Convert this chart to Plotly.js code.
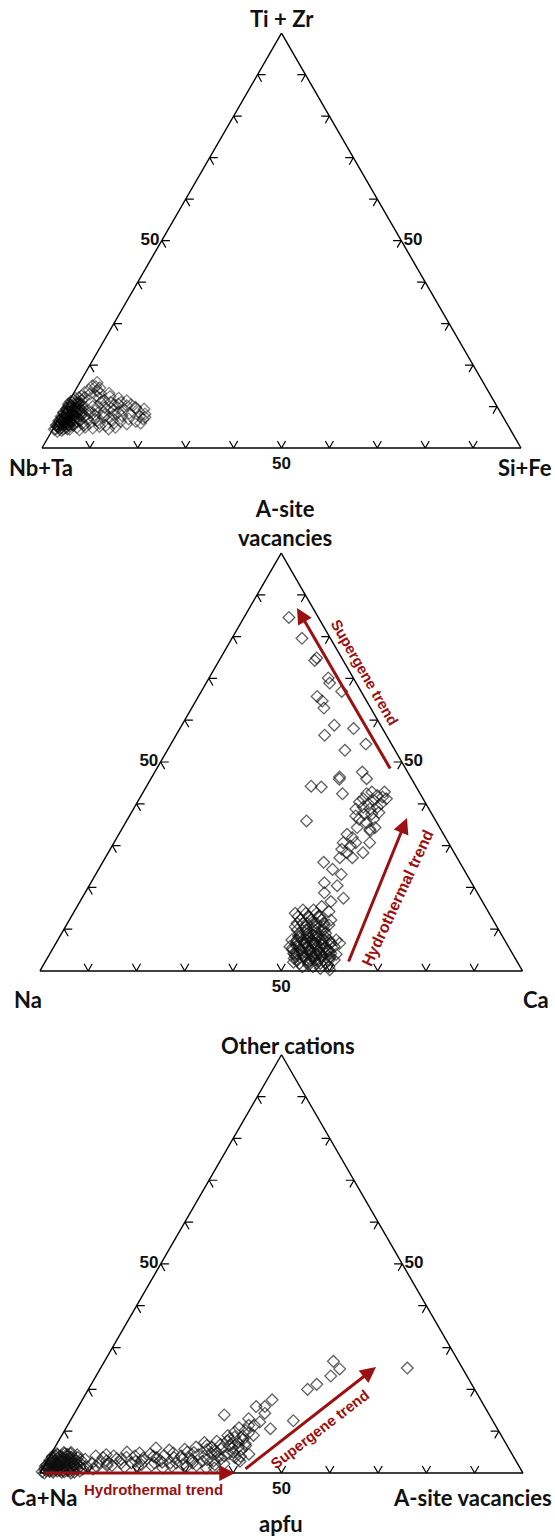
<!DOCTYPE html>
<html>
<head>
<meta charset="utf-8">
<script src="https://cdn.plot.ly/plotly-3.0.1.min.js"></script>
<style>
html,body{margin:0;padding:0;background:#ffffff;}
#chart{width:555px;height:1540px;}
</style>
</head>
<body>
<div id="chart"></div>
<script>
// ---------------- DATA ----------------
// Tick positions along each side (percent)
const tickValues = [10, 20, 30, 40, 50, 60, 70, 80, 90];
const labelTicks = [50];
const labelTickText = ['50'];

// Diagram 1: Ti+Zr (top, a) / Nb+Ta (bottom-left, b) / Si+Fe (bottom-right, c)
const d1Titles = ['Ti + Zr', 'Nb+Ta', 'Si+Fe'];
const d1_TiZr = [4.5,5,5.5,6,6.5,7,7.5,8,8.5,9,9.5,10,10.5,11,4.2,5,5.8,6.4,7,7.8,8.4,9.2,9.8,10.6,4.5,5.5,6.3,7.2,8.2,9,9.8,11.5,12,5.2,6.2,7.4,8.6,9.6,6.8,8,5,6,7.6,4,12.5,
  5.6,6.8,7.8,8.8,9.4,10.2,6,7.2,8.4,5.4,4.8,10.8,11.6,6.6,7.8,9.2,5.8,7.6,8.2,9,
  4.6,4.6,4.6,4.6,5.6,5.6,5.6,5.6,5.6,6.6,6.6,6.6,6.6,6.6,7.6,7.6,7.6,7.6,8.6,8.6,8.6,8.6,9.6,9.6,9.6,10.6,10.6,10.6,11.2,11.2,12.2,12.2,13.4,
  5.5,7,8.5,10,11.5,6.6,8,9.6,11,7.2,5.2,6,8.6,10.4,12.6,13.8,14.8,
  13,14,15,15.8,14.5,13.2,12,11,10,9,8,7,6,5,4.4,4.8,6,7.4,8.6,9.8,11,12.4,13.2,12,10.6,9.2,8,6.6,5.4,4.6,5,6.4,7.8,9,10.2,11.4,8.4,7,5.8,9.8,
  10.4,9.6,8.8,7.6,6.4,7,8.2,9.4,6,7.4];
const d1_SiFe = [0.3,1,0.2,0.8,0.4,1.2,0.5,1,0.3,0.8,0.4,1.2,0.6,1.5,2,2.6,1.8,2.7,2.2,3,2.1,2.8,2,3,3.5,3.8,4.2,3.9,4.4,4,3.6,2.6,1,0.6,1.4,1.6,1.7,1.3,3.2,2.4,4.8,5.5,5,1.2,2,
  0.9,0.6,1.4,0.7,1.8,0.4,2.2,2.8,3.2,3,1.6,2.2,0.8,4.6,4.2,3.4,2.6,0.2,2.2,5.2,
  0.6,1.4,2.2,3.0,0.4,1.2,2.0,2.8,3.6,0.2,1.0,1.8,2.6,3.4,0.8,1.8,2.6,3.4,0.2,1.2,2.8,3.8,0.6,2.4,3.0,0.2,1.8,2.4,0.4,2.0,1.6,2.8,2.2,
  6,6,5.8,6.6,7.2,8.2,9,9.6,11,10.4,9.4,12,11.6,13.4,5,4.6,3.8,
  3.5,2.8,3,3.6,4.8,5.6,6,6.8,5.6,6.6,7,7.4,7,6.5,5.6,8.2,9,9.2,8.6,8.2,8.8,8,7.4,10,10.6,10.4,11,11.4,10.6,11.6,12.8,13.2,12.8,12.4,12.6,12,14,14.6,14.8,14.6,
  10,14.8,15.8,16.6,16.4,17.6,17.4,16.6,17.6,17.8];

// Diagram 2: A-site vacancies (top, a) / Na (bottom-left, b) / Ca (bottom-right, c)
const d2Titles = ['A-site<br>vacancies', 'Na', 'Ca'];
const d2_Vac = [84.6,79.6,74.3,74.9,70.1,68.9,65.7,64.6,62.9,66.9,58.8,56.4,58.0,52.8,54.3,44.2,44.0,46.4,45.9,42.4,47.6,46.0,35.9,
  38.75,40.4,41.2,42.4,42.8,42.0,41.6,41.2,40.8,40.0,39.2,38.75,39.2,40.0,37.5,37.5,36.3,35.5,36.3,34.3,33.9,34.3,37.9,42.8,37.1,
  33.5,32.7,31.9,30.7,30.7,29.9,29.1,28.3,28.3,27.1,27.1,30.7,
  26.0,24.3,23.1,21.1,20.4,17.4,18.7,15.4,16.6,14.2,
  13.8,13.8,13.8,12.2,12.2,12.2,12.2,10.6,10.6,10.6,10.6,9.0,9.0,9.0,9.0,7.4,7.4,7.4,7.4,7.4,7.4,5.8,5.8,5.8,5.8,5.8,5.8,4.2,4.2,4.2,4.2,4.2,2.6,2.6,2.6,2.6,2.6,1.0,1.0,1.0,0.3,
  6.5,6.8,5.2,4.8,7.9,3.4,8.2,5.0,3.6,6.2,11.4,9.8,8.4,3.0,
  3.5,4.5,5.5,6.2,7.0,7.6,8.6,3.8,5.2,6.8,2.2,1.8,3.2,4.8,6.0,7.2,8.8,9.6,10.2,11.6,12.8,13.0,11.0,5.4,3.9,2.1,1.4,0.6,4.0,6.6,
  6.6,6.6,6.6,6.6,6.6,5.0,5.0,5.0,5.0,5.0,3.4,3.4,3.4,3.4,3.4,1.8,1.8,1.8,1.8,8.2,8.2,8.2,8.2,9.8,9.8,9.8,9.8,11.4,11.4,11.4,11.4,13.0,13.0,13.0,14.6,14.6,4.2,4.2,4.2,4.2,2.6,2.6,2.6,7.4,7.4,7.4,7.4];
const d2_Ca = [9.3,14.5,19.8,19.9,24.7,25.6,24.6,26.2,27.4,29.1,31.6,30.8,36.0,36.8,40.4,34.1,36.3,38.9,39.1,41.5,43.0,44.7,37.3,
  46.1,46.0,46.4,46.5,47.4,48.9,50.2,51.2,48.8,48.1,47.4,49.0,50.3,50.7,50.0,48.5,48.0,49.9,51.0,52.3,51.4,48.6,51.3,50.0,46.9,
  51.7,47.3,48.8,47.5,50.1,49.4,48.0,49.5,52.8,51.2,48.6,53.0,
  45.8,48.5,50.9,48.4,51.4,54.2,49.6,50.7,52.0,52.8,
  46.0,48.2,50.4,47.9,50.1,52.3,54.2,47.6,49.8,51.7,53.5,49.2,51.0,52.8,54.7,48.5,50.7,52.5,54.4,56.2,57.7,48.9,50.8,52.6,54.5,56.3,58.1,50.5,52.3,54.1,56.0,58.2,52.0,53.8,55.7,57.5,59.7,53.9,56.1,59.4,59.9,
  51.8,53.5,53.3,55.2,51.6,54.6,53.6,51.6,56.6,55.4,48.8,50.4,49.8,51.2,
  52.8,53.6,52.2,53.9,52.9,54.8,52.2,55.3,56.0,56.8,54.6,57.2,58.4,57.6,50.2,49.6,50.9,53.6,52.6,50.6,49.4,51.6,54.4,49.6,50.9,51.5,55.0,57.8,59.4,58.8,
  49.8,51.6,53.4,55.2,57.0,49.9,51.7,53.5,55.3,57.1,51.3,53.1,54.9,56.7,58.5,52.9,54.7,56.5,58.3,49.5,51.3,53.1,55.0,48.4,50.2,52.0,54.0,47.6,49.6,51.6,53.2,47.0,49.2,51.2,47.2,49.4,51.2,53.2,55.1,57.1,54.8,56.6,58.6,49.6,51.6,53.5,55.3];

// Diagram 3: Other cations (top, a) / Ca+Na (bottom-left, b) / A-site vacancies (bottom-right, c)
const d3Titles = ['Other cations', 'Ca+Na', 'A-site vacancies'];
const d3_Other = [25.1,26.7,24.9,23.2,20.0,21.2,17.5,15.9,15.9,13.0,14.3,13.9,12.5,11.4,10.2,9.0,9.8,7.3,6.5,5.7,4.5,3.7,4.1,4.9,2.9,7.3,4.1,4.9,5.7,4.1,3.7,2.4,3.7,2.4,4.1,2.4,3.3,4.1,2.9,3.7,4.1,2.4,3.3,3.7,4.9,11.4,12.2,10.6,8.6,7.7,6.5,
  2,3,4.5,1.8,5,1.5,2,3,5.5,6,1.8,6.2,3.2,2.2,1.2,5,6,4,2.8,7,8,5.2,
  1.5,2.6,4.4,1.8,3.8,2.8,1.6,4,2.6,4.8,1.6,3.4,2.4,4.4,6.2,1.2,3.4,4.6,5.8,7.0,8.2,6.2,3.2,8.8,9.6,
  1,2.2,3.4,1.4,2.4,4.8,3.6,1.8,3,4.2,1.2,2.4,5,3.6,1.6,2.8,4.6,6.6,7.6,5.6,9,10.8,6.8,4,2,
  0.3,1,2,3,4,1.2,2.4,3.3,4.1,0.4,1.2,2,2.9,4.1,4.9,0.5,1.4,2.1,3,4,0.6,1.6,2.9,3.8,0.8,2,1,2.8,0,0,0.2,3.2,1.5,4.4,0.5,
  0.6,1.5,2.6,3.6,0.9,1.8,2.6,3.5,4.5,1.1,2.4,3.3,0.3,1.3,2.2,3.5,0.5,1.7,2.5,0.9,1.9,2.9,4.3,1.6,
  0.6,0.6,0.6,0.6,1.4,1.4,1.4,1.4,1.4,2.2,2.2,2.2,2.2,3.0,3.0,3.0,3.0,3.8,3.8,3.8,4.6,4.6,4.6,0.2,0.2,1.0];
const d3_Vac = [63.5,47.4,49.6,48.6,45.4,46.7,39.3,38.6,36.8,36.7,39.4,31.2,46.2,38.7,37.4,39.7,35.4,37.4,35.9,38.9,41.0,38.5,36.1,34.2,34.5,30.4,32.0,29.4,27.1,27.2,25.9,25.8,22.3,22.5,17.6,17.7,15.1,13.2,12.3,11.2,9.5,9.6,7.7,6.0,4.0,37.5,39.4,42.4,36.0,34.9,39.3,
  20,19.5,20.5,14,15.5,11,28.5,30,24,21,31.5,32.5,33,37,35.5,37.5,36.8,39.5,40,39,38,33.6,
  9,11,11.5,13,16,18.4,19.5,21.5,24,25.2,26.5,27.8,30.4,30.6,29.2,33.8,35.8,36.8,34.6,36.4,35.2,38,39.5,37.6,38.4,
  10.5,12.8,14.2,16.8,15.6,18.2,19.6,22.2,23.4,23.6,24.8,27,28,29.2,29.6,32.2,33.2,31.2,32.8,31.8,34.4,35.8,34,34.8,35.2,
  0.3,0.5,0.4,0.5,0.6,1.2,1.3,1.1,1.1,1.8,2.1,2.4,2.4,2.2,2.5,3.3,3.2,3.2,3.5,3.6,4.4,4.5,4.2,4.6,5.3,6.1,6.4,5.6,6.4,0.9,2.6,6.8,7.5,5.5,8,
  0.9,1.6,1.8,1.9,2.9,2.9,3.0,2.9,3.4,3.9,3.9,4.0,4.9,5.0,5.1,5.3,6.0,6.1,7.0,7.2,2.0,0.9,1.5,0.3,
  1.6,2.4,3.8,5.4,0.8,2.6,4.2,5.6,6.8,1.0,2.8,4.6,6.4,1.6,3.0,4.8,6.0,0.6,2.6,4.2,1.2,2.8,4.0,4.4,7.0,8.4];

const trendLabels = ['Supergene trend', 'Hydrothermal trend'];
const bottomLabel = 'apfu';

// ---------------- LAYOUT HELPERS ----------------
const W = 555, H = 1540;
const px = x => x / W;
const py = y => 1 - y / H;
const RED = '#9b1111';
const TITLE_FONT = {family: 'Lato, "Open Sans", sans-serif', size: 22, color: '#111', weight: 'bold'};
const TICK_FONT = {family: '"Liberation Sans", Arial, sans-serif', size: 17, color: '#111', weight: 'bold'};

function domain(cx, w, cy) {
  return {x: [(cx - w / 2) / W, (cx + w / 2) / W], y: [1 - (cy + w * 0.5) / H, 1 - (cy - w * 0.5) / H]};
}
function axis() {
  return {
    min: 0, showline: true, linecolor: '#000', linewidth: 1.4,
    showgrid: false, ticks: '', tickvals: labelTicks, ticktext: labelTickText,
    tickfont: TICK_FONT, title: {text: ''}, layer: 'above traces'
  };
}
function ternaryLayout(dom) {
  return {sum: 100, domain: dom, bgcolor: 'rgba(0,0,0,0)',
          aaxis: axis(), baxis: axis(), caxis: axis()};
}
// chevron tick marks: short stubs of the two grid directions at each tick on each side
function chevronTrace(sub) {
  const d = 1.7;
  const A = [], B = [], C = [];
  const add = (pts) => { pts.forEach(p => { A.push(p[0]); B.push(p[1]); C.push(p[2]); }); A.push(null); B.push(null); C.push(null); };
  tickValues.forEach(t => {
    add([[t, 100 - t - d, d], [t, 100 - t, 0], [t - d, 100 - t, d]]);       // left side
    add([[d, 100 - t, t - d], [0, 100 - t, t], [d, 100 - t - d, t]]);       // bottom side
    add([[t, d, 100 - t - d], [t, 0, 100 - t], [t - d, d, 100 - t]]);       // right side
  });
  return {type: 'scatterternary', subplot: sub, mode: 'lines', a: A, b: B, c: C,
          line: {color: '#000', width: 1.2}, hoverinfo: 'skip', showlegend: false, cliponaxis: false};
}
function pointsTrace(sub, a, c, col) {
  return {type: 'scatterternary', subplot: sub, mode: 'markers', a: a, c: c,
          marker: {symbol: 'diamond-open', size: 9, color: col, line: {width: 1.3, color: col}},
          cliponaxis: false, hoverinfo: 'skip', showlegend: false};
}

const traces = [
  pointsTrace('ternary', d1_TiZr, d1_SiFe, 'rgba(0,0,0,0.5)'),
  chevronTrace('ternary'),
  pointsTrace('ternary2', d2_Vac, d2_Ca, 'rgba(15,15,15,0.66)'),
  chevronTrace('ternary2'),
  pointsTrace('ternary3', d3_Other, d3_Vac, 'rgba(15,15,15,0.66)'),
  chevronTrace('ternary3')
];

function txt(text, x, y, extra) {
  return Object.assign({text: text, x: px(x), y: py(y), xref: 'paper', yref: 'paper',
    showarrow: false, xanchor: 'center', yanchor: 'middle', font: TITLE_FONT}, extra || {});
}
function arrow(hx, hy, tx, ty) {
  return {text: '', x: px(hx), y: py(hy), xref: 'paper', yref: 'paper', axref: 'pixel', ayref: 'pixel',
    ax: tx - hx, ay: ty - hy, showarrow: true, arrowhead: 2, arrowsize: 1.05, arrowwidth: 3,
    arrowcolor: RED, standoff: 0, startstandoff: 0};
}
const redFont = s => ({family: '"Liberation Sans", Arial, sans-serif', size: s, color: RED, weight: 'bold'});

const annotations = [
  // diagram 1
  txt(d1Titles[0], 282, 19),
  txt(d1Titles[1], 41, 467),
  txt(d1Titles[2], 554, 467, {xanchor: 'right'}),
  // diagram 2
  txt(d2Titles[0], 285, 523),
  txt(d2Titles[1], 28, 999),
  txt(d2Titles[2], 536, 999),
  arrow(297, 608, 391, 770),
  arrow(407, 818, 348, 963),
  txt(trendLabels[0], 364, 672, {textangle: 60, font: redFont(15)}),
  txt(trendLabels[1], 397, 898, {textangle: -65, font: redFont(16)}),
  // diagram 3
  txt(d3Titles[0], 288, 1045),
  txt(d3Titles[1], 44, 1497),
  txt(d3Titles[2], 554, 1497, {xanchor: 'right'}),
  txt(bottomLabel, 281, 1523),
  arrow(235, 1473, 43, 1473),
  arrow(376, 1367, 244, 1470),
  txt(trendLabels[1], 153, 1489, {font: redFont(15)}),
  txt(trendLabels[0], 319, 1429, {textangle: -37.5, font: redFont(15)})
];

const layout = {
  width: W, height: H,
  margin: {l: 0, r: 0, t: 0, b: 0},
  paper_bgcolor: '#ffffff', plot_bgcolor: '#ffffff',
  showlegend: false, hovermode: false,
  ternary: ternaryLayout(domain(281.5, 479, 240.6)),
  ternary2: ternaryLayout(domain(281.2, 482.5, 762)),
  ternary3: ternaryLayout(domain(281.5, 483, 1263.9)),
  annotations: annotations
};

Plotly.newPlot('chart', traces, layout, {staticPlot: true, displayModeBar: false});
</script>
</body>
</html>
